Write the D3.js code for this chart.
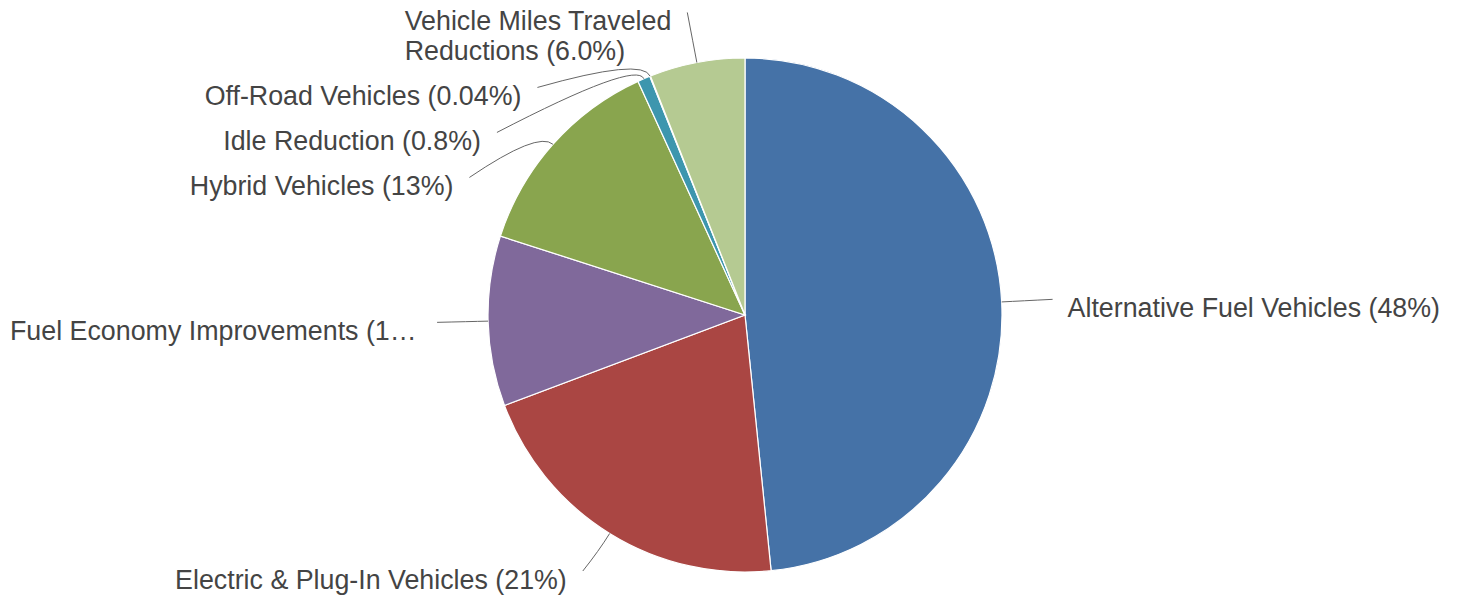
<!DOCTYPE html>
<html>
<head>
<meta charset="utf-8">
<script src="https://cdn.jsdelivr.net/npm/d3@7"></script>
<style>
  html, body { margin: 0; padding: 0; background: #ffffff; }
  svg { display: block; }
</style>
</head>
<body>
<svg id="chart" width="1460" height="599"></svg>
<script>
// ---- data ----
const categories = [
  "Alternative Fuel Vehicles",
  "Electric & Plug-In Vehicles",
  "Fuel Economy Improvements",
  "Hybrid Vehicles",
  "Idle Reduction",
  "Off-Road Vehicles",
  "Vehicle Miles Traveled Reductions"
];
const values = [48.4, 20.9, 10.7, 13.2, 0.8, 0.04, 6.0];
const pctLabels = ["48%", "21%", "11%", "13%", "0.8%", "0.04%", "6.0%"];
const colors = ["#4572A7", "#AA4643", "#80699B", "#89A54E", "#3D96AE", "#DB843D", "#B5CA92"];

// ---- layout ----
const W = 1460, H = 599;
const cx = 745, cy = 315, r = 257;
const labelR = 308;      // radius where leader lines end
const ctrlR = r + 20;    // control radius for leader curve
const fontSize = 26.8;
const lineH = 30;
const leftMargin = 10;

const svg = d3.select("#chart");
svg.append("rect").attr("width", W).attr("height", H).attr("fill", "#fff");

const arcs = d3.pie().sort(null).value(d => d)(values);
const arcGen = d3.arc().innerRadius(0).outerRadius(r);

const g = svg.append("g").attr("transform", `translate(${cx},${cy})`);
g.selectAll("path.slice")
  .data(arcs)
  .join("path")
  .attr("class", "slice")
  .attr("d", arcGen)
  .attr("fill", (d, i) => colors[i])
  .attr("stroke", "#fff")
  .attr("stroke-width", 1.2);

const pt = (a, q) => [cx + q * Math.sin(a), cy - q * Math.cos(a)];

const FONT = "'Liberation Sans', Arial, sans-serif";
const measure = svg.append("text")
  .attr("font-family", FONT)
  .attr("font-size", fontSize)
  .attr("visibility", "hidden");
function textW(s) { measure.text(s); return measure.node().getComputedTextLength(); }

// build labels
const labels = arcs.map((d, i) => {
  const mid = (d.startAngle + d.endAngle) / 2;
  const side = mid < Math.PI ? "right" : "left";
  const ideal = pt(mid, labelR);
  const full = `${categories[i]} (${pctLabels[i]})`;
  return { i, mid, side, ideal, idealY: ideal[1], full, lines: [full], y: ideal[1] };
});

function wrap(s, maxW) {
  const words = s.split(" ");
  const out = [];
  let cur = "";
  words.forEach(w => {
    const t = cur ? cur + " " + w : w;
    if (textW(t) > maxW && cur) { out.push(cur); cur = w; } else cur = t;
  });
  out.push(cur);
  return out;
}

// resolve vertical overlaps per side
["left", "right"].forEach(side => {
  const ls = labels.filter(l => l.side === side).sort((a, b) => a.idealY - b.idealY);
  // topmost label above the pie gets wrapped
  if (ls.length && ls[0].idealY < cy - r) ls[0].lines = wrap(ls[0].full, 300);
  let prevBottom = -Infinity;
  ls.forEach(l => {
    l.y = Math.max(l.idealY, prevBottom);
    l.y = Math.min(l.y, H - 28);
    prevBottom = l.y + lineH * l.lines.length + 15;
  });
});

const lineG = svg.append("g");
const textG = svg.append("g")
  .attr("font-family", FONT)
  .attr("font-size", fontSize)
  .attr("fill", "#444");

labels.forEach(l => {
  const dy = l.y - cy;
  const circX = cx + (l.side === "right" ? 1 : -1) * Math.sqrt(Math.max(0, labelR * labelR - dy * dy));
  const endX = Math.abs(l.y - l.idealY) < 8 ? l.ideal[0] : circX;
  const edge = pt(l.mid, r);
  const ctrl = pt(l.mid, ctrlR);
  lineG.append("path")
    .attr("d", `M${edge[0]},${edge[1]}Q${ctrl[0]},${ctrl[1]} ${endX},${l.y}`)
    .attr("fill", "none")
    .attr("stroke", "#666")
    .attr("stroke-width", 1);

  const base = l.y + 18;
  if (l.side === "right") {
    l.lines.forEach((s, k) => {
      textG.append("text").attr("x", endX + 15).attr("y", base + k * lineH).text(s);
    });
  } else {
    const right = endX - 16;
    const maxW = d3.max(l.lines, s => textW(s));
    if (l.lines.length > 1) {
      l.lines.forEach((s, k) => {
        textG.append("text").attr("x", right - maxW).attr("y", base + k * lineH).text(s);
      });
    } else {
      let s = l.lines[0];
      if (right - textW(s) < leftMargin) {
        const avail = right - leftMargin;
        let t = s;
        while (t.length > 1 && textW(t + "…") > avail) t = t.slice(0, -1);
        s = t.replace(/\s+$/, "") + "…";
        textG.append("text").attr("x", leftMargin).attr("y", base).text(s);
      } else {
        textG.append("text").attr("x", right).attr("y", base)
          .attr("text-anchor", "end").text(s);
      }
    }
  }
});
measure.remove();
</script>
</body>
</html>
